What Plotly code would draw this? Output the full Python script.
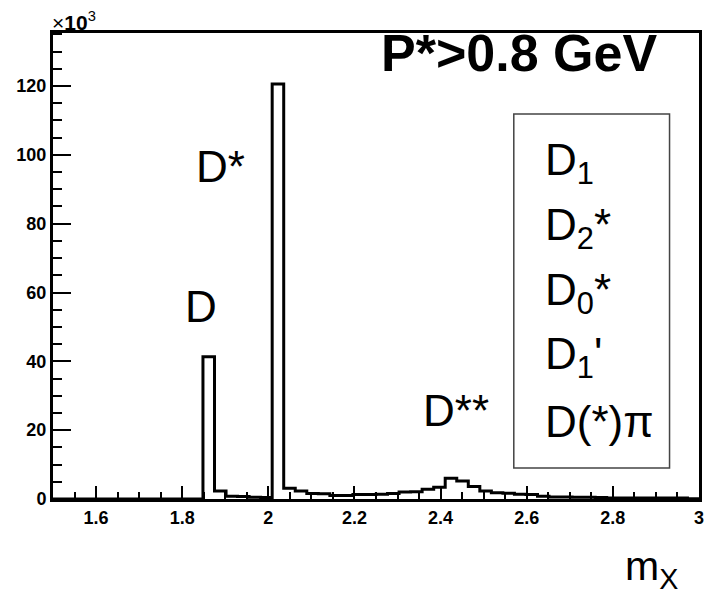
import numpy as np
import plotly.graph_objects as go

# Histogram of m_X: 56 equal bins between 1.5 and 3.0, counts in units of 10^3
x_lo, x_hi, n_bins = 1.5, 3.0, 56
counts = [
    0, 0, 0, 0, 0, 0, 0, 0, 0, 0, 0, 0, 0,          # 1.50 - 1.85
    41.3, 2.3, 0.8, 0.7, 0.5, 0.4,                  # D peak and tail
    120.6, 3.1, 2.3, 1.6, 1.5, 1.0, 1.0,            # D* peak and tail
    1.3, 1.3, 1.4, 1.6, 2.0, 2.1, 2.8, 3.4,
    6.0, 5.2, 3.6, 2.3, 1.8, 1.7, 1.4, 1.3,         # D** bump
    0.8, 0.6, 0.6, 0.5, 0.5, 0.4,
    0.3, 0.3, 0.3, 0.3, 0.3, 0.3, 0.3, 0.1,
]

x_tick_step, x_minor_step = 0.2, 0.05
y_tick_step, y_minor_step = 20, 5
y_top = 135.4

peak_labels = [("D*", 1.888, 96.7), ("D", 1.844, 56.0), ("D**", 2.435, 25.8)]
legend_entries = [
    "D<sub>1</sub>",
    "D<sub>2</sub>*",
    "D<sub>0</sub>*",
    "D<sub>1</sub>'",
    "D(*)π",
]

FONT = "Liberation Sans, Arial, Helvetica, sans-serif"

edges = np.linspace(x_lo, x_hi, n_bins + 1)
vals = np.asarray(counts, dtype=float)
# step outline: start on the axis, one level per bin, close back on the axis
xs = np.concatenate([[edges[0]], edges[:-1], [edges[-1]], [edges[-1]]])
ys = np.concatenate([[0.0], vals, [vals[-1]], [0.0]])

fig = go.Figure()
fig.add_trace(go.Scatter(
    x=xs, y=ys, mode="lines",
    line=dict(color="black", width=3, shape="hv"),
    hoverinfo="skip", showlegend=False,
))

axis_common = dict(
    showgrid=False, zeroline=False, showline=True, linecolor="black",
    linewidth=3, mirror=True, ticks="inside", tickcolor="black",
    tickwidth=1.5, automargin=False,
    tickfont=dict(family=FONT, size=18, color="black", weight="bold"),
)

fig.update_xaxes(
    range=[x_lo, x_hi], tick0=0, dtick=x_tick_step, ticklen=13,
    minor=dict(dtick=x_minor_step, tick0=0, ticks="inside", ticklen=7,
               tickwidth=1.5, tickcolor="black"),
    **axis_common,
)
fig.update_yaxes(
    range=[0, y_top], tick0=0, dtick=y_tick_step, ticklen=18,
    minor=dict(dtick=y_minor_step, tick0=0, ticks="inside", ticklen=9,
               tickwidth=1.5, tickcolor="black"),
    **axis_common,
)

annotations = []
for text, ax_x, ax_y in peak_labels:
    annotations.append(dict(
        x=ax_x, y=ax_y, xref="x", yref="y", text=text, showarrow=False,
        xanchor="center", yanchor="middle",
        font=dict(family=FONT, size=44, color="black"),
    ))

# selection cut
annotations.append(dict(
    x=0.722, y=0.957, xref="paper", yref="paper", text="<b>P*>0.8 GeV</b>",
    showarrow=False, xanchor="center", yanchor="middle",
    font=dict(family=FONT, size=52, color="black"),
))

# list of D** states inside the box
for i, entry in enumerate(legend_entries):
    annotations.append(dict(
        x=0.758, y=0.72 - i * 0.1385, xref="paper", yref="paper", text=entry,
        showarrow=False, xanchor="left", yanchor="middle",
        font=dict(family=FONT, size=44, color="black"),
    ))

# axis multiplier and axis title
annotations.append(dict(
    x=-0.004, y=0.994, xref="paper", yref="paper",
    text="×<b>10</b><sup>3</sup>", showarrow=False,
    xanchor="left", yanchor="bottom",
    font=dict(family=FONT, size=21, color="black"),
))
annotations.append(dict(
    x=0.882, y=-0.151, xref="paper", yref="paper",
    text="m<sub>X</sub>", showarrow=False, xanchor="left", yanchor="middle",
    font=dict(family=FONT, size=41, color="black"),
))

fig.update_layout(
    width=708, height=596,
    margin=dict(l=52.5, r=8.5, t=33, b=97),
    paper_bgcolor="white", plot_bgcolor="white",
    annotations=annotations,
    shapes=[dict(
        type="rect", xref="paper", yref="paper",
        x0=0.7133, x1=0.9544, y0=0.0665, y1=0.8261,
        line=dict(color="#444444", width=1.5), fillcolor="rgba(0,0,0,0)",
    )],
)

fig.write_html("out.html")
